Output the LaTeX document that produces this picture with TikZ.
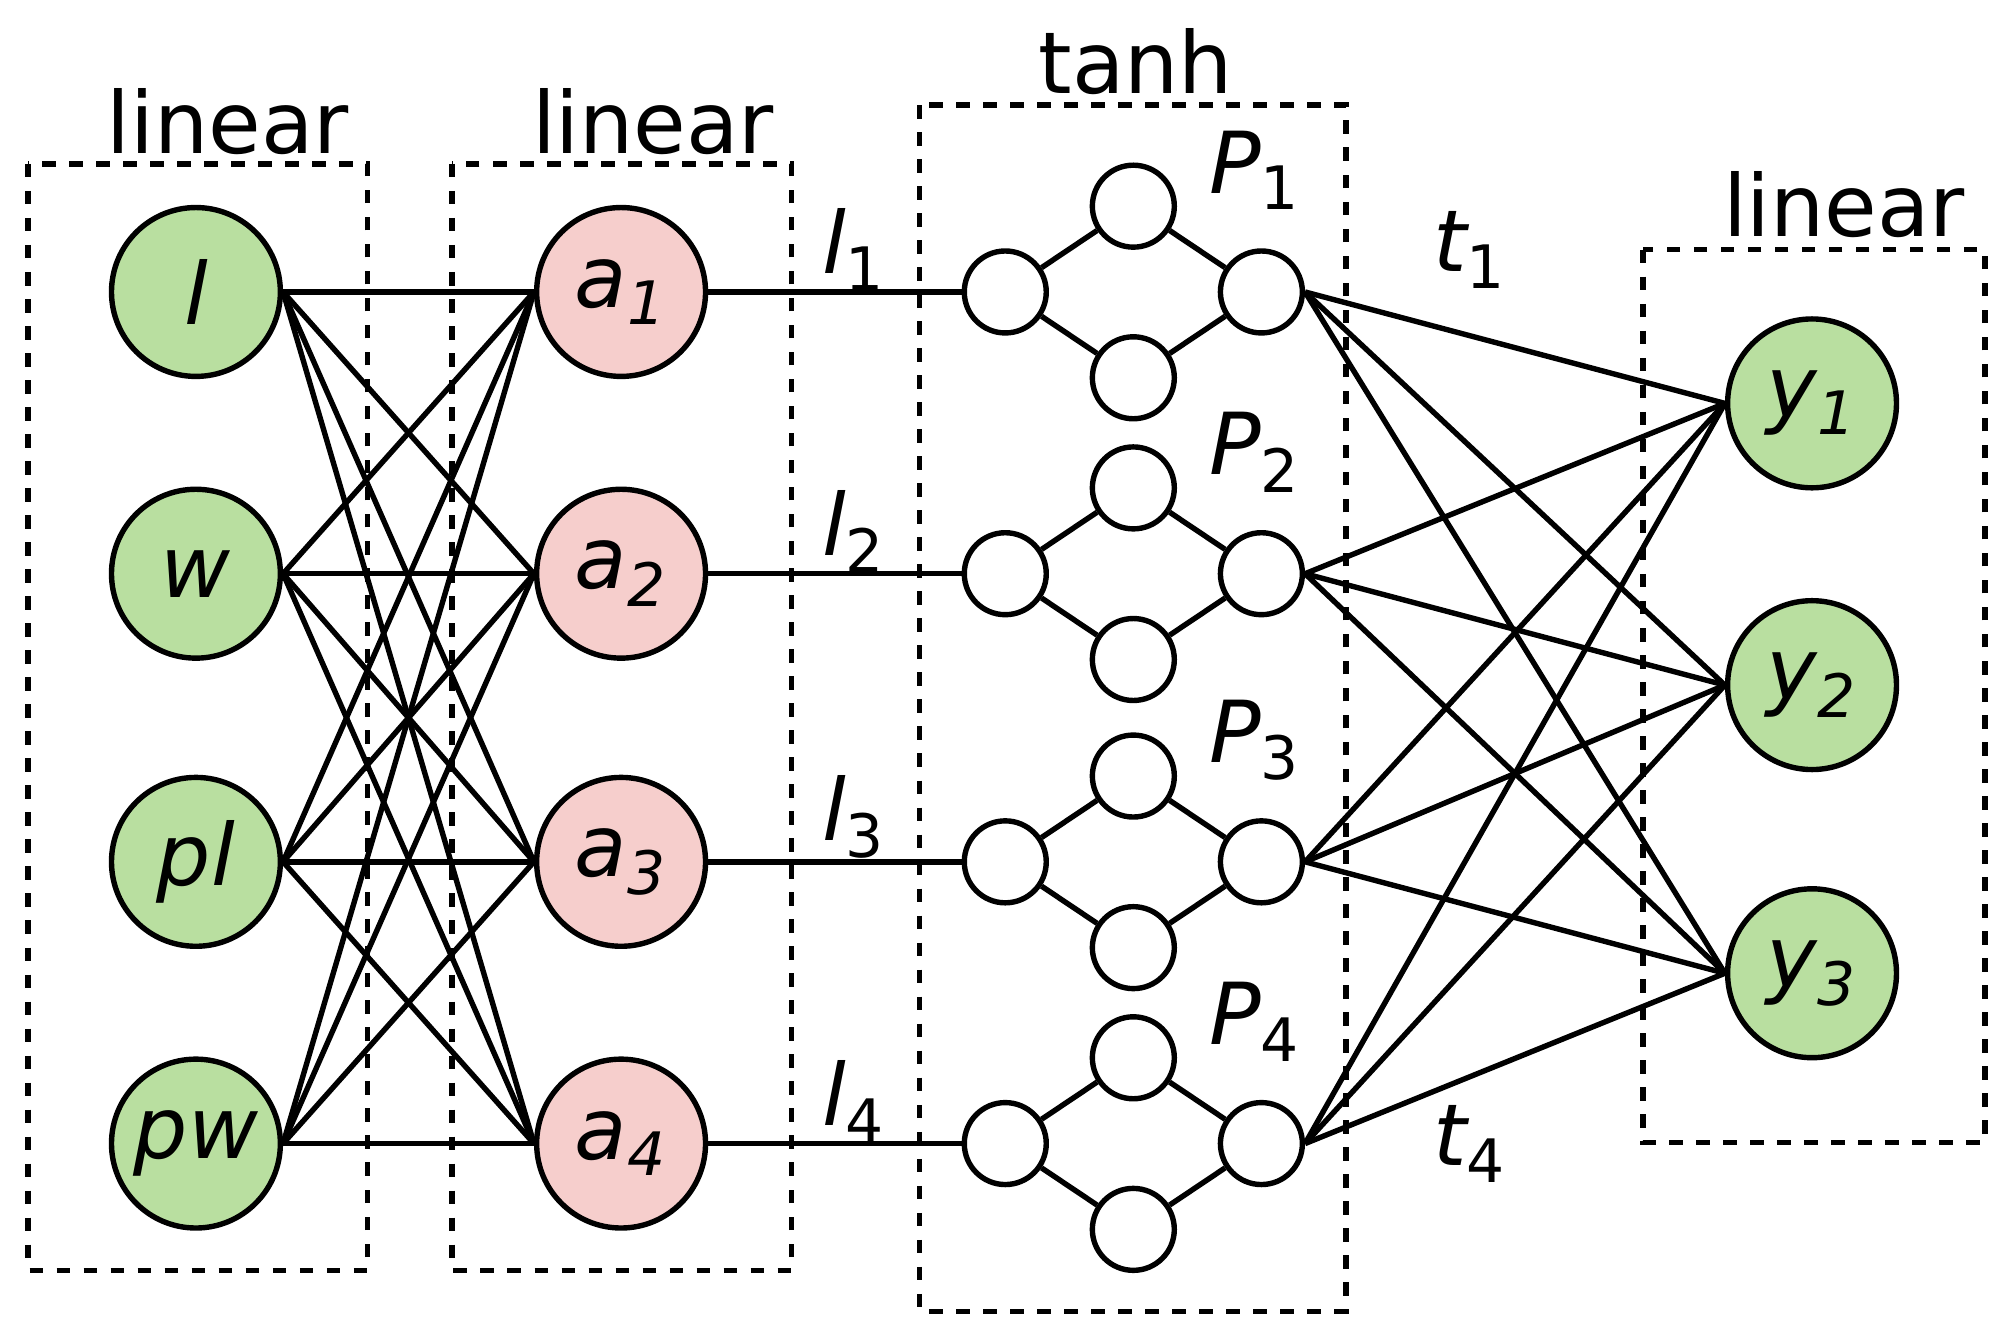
\documentclass[tikz,border=0pt]{standalone}
\usepackage{fontspec}
\setmainfont{DejaVu Sans}
\begin{document}
\begin{tikzpicture}[x=0.01cm,y=-0.01cm,
  big/.style={circle,draw,line width=1.2pt,minimum size=132\pgflinewidth*0+3.75cm*0+1.32cm*0+37.5pt,inner sep=0pt,font=\fontsize{19}{22}\selectfont\itshape},
  grn/.style={big,fill=green!40!lime!30!white,fill={rgb,255:red,185;green,223;blue,160}},
  pnk/.style={big,fill={rgb,255:red,246;green,206;blue,204}},
  sm/.style={circle,draw,line width=1.2pt,minimum size=18.2pt,inner sep=0pt,fill=white},
  box/.style={draw,dashed,line width=1.2pt},
  lab/.style={font=\fontsize{19}{22}\selectfont},
  ln/.style={line width=1.2pt}]
\useasboundingbox (0,0) rectangle (1568,1046);
\draw[box] (22,128) rectangle (287,992);
\draw[box] (353,128) rectangle (618,992);
\draw[box] (718,82) rectangle (1051,1024);
\draw[box] (1283,195) rectangle (1550,892);
\node[lab] (L1) at (178,95) {linear};
\node[lab] (L2) at (510,95) {linear};
\node[lab] (L3) at (887,48) {tanh};
\node[lab] (L4) at (1440,160) {linear};
\foreach \n/\t/\y in {i1/l/228,i2/w/448,i3/pl/673,i4/pw/893}
  \node[grn] (\n) at (153,\y) {\t};
\foreach \i/\y in {1/228,2/448,3/673,4/893}
  \node[pnk] (a\i) at (485,\y) {a\textsubscript{\i}};
\foreach \i/\y in {1/315,2/535,3/760}
  \node[grn] (y\i) at (1415,\y) {y\textsubscript{\i}};
\foreach \i in {1,...,4}\foreach \j in {1,...,4}
  \draw[ln] (i\i.east) -- (a\j.west);
\foreach \i/\y/\ly in {1/228/195,2/448/415,3/673/638,4/893/860}{
  \node[sm] (b\i) at (785,\y) {};
  \node[sm] (t\i) at (885,\y-67) {};
  \node[sm] (d\i) at (885,\y+67) {};
  \node[sm] (e\i) at (985,\y) {};
  \draw[ln] (b\i) -- (t\i) -- (e\i) -- (d\i) -- (b\i);
  \draw[ln] (a\i.east) -- (b\i.west);
  \node[lab,font=\fontsize{19}{22}\selectfont\itshape] (l\i) at (667,\ly) {l\textsubscript{\upshape\i}};
  \node[lab,font=\fontsize{19}{22}\selectfont\itshape] (P\i) at (980,\y-95) {P\textsubscript{\upshape\i}};
  \foreach \j in {1,2,3} \draw[ln] (e\i.east) -- (y\j.west);
}
\node[lab,font=\fontsize{19}{22}\selectfont\itshape] (T1) at (1148,195) {t\textsubscript{\upshape 1}};
\node[lab,font=\fontsize{19}{22}\selectfont\itshape] (T4) at (1148,893) {t\textsubscript{\upshape 4}};
\end{tikzpicture}
\end{document}
